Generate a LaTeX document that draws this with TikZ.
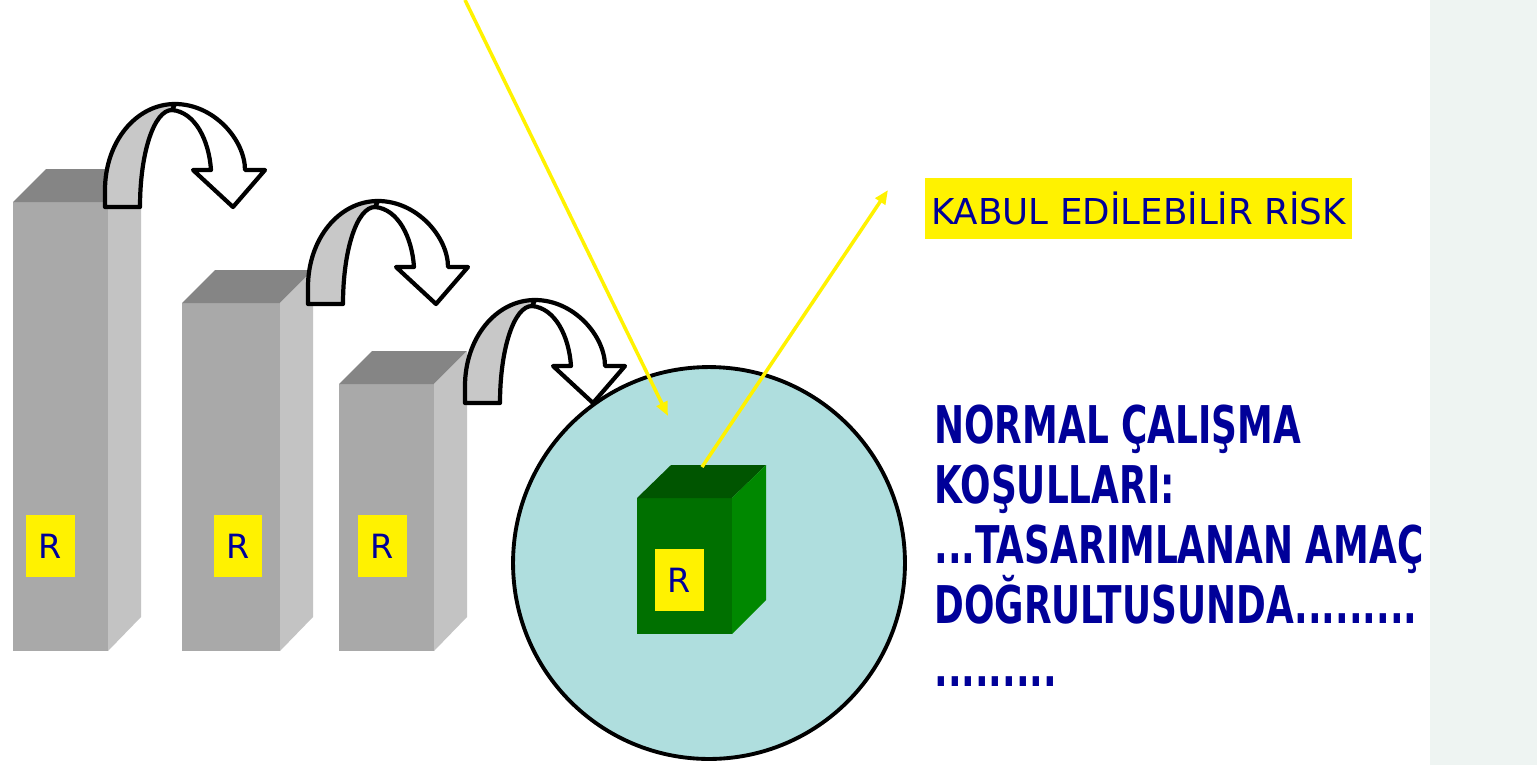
\documentclass[tikz,border=0pt]{standalone}
\usepackage{fontspec}
\newfontfamily\tahoma[FakeStretch=0.69]{DejaVu Sans}
\newfontfamily\plainsans{DejaVu Sans}
\usetikzlibrary{arrows.meta}

\definecolor{frontgray}{RGB}{169,169,169}
\definecolor{sidegray}{RGB}{195,195,195}
\definecolor{topgray}{RGB}{133,133,133}
\definecolor{curlgray}{RGB}{200,200,200}
\definecolor{frontgreen}{RGB}{0,112,0}
\definecolor{sidegreen}{RGB}{0,136,0}
\definecolor{topgreen}{RGB}{0,85,0}
\definecolor{poolcyan}{RGB}{175,222,222}
\definecolor{ink}{RGB}{0,0,153}
\definecolor{stripgray}{RGB}{238,244,242}

\begin{document}
\begin{tikzpicture}[x=0.02cm, y=-0.02cm]

\tikzstyle{barfront} = [fill=frontgray]
\tikzstyle{barside} = [fill=sidegray]
\tikzstyle{bartop} = [fill=topgray]
\tikzstyle{boxfront} = [fill=frontgreen]
\tikzstyle{boxside} = [fill=sidegreen]
\tikzstyle{boxtop} = [fill=topgreen]
\tikzstyle{risk} = [rectangle, fill=yellow, text=ink, minimum width=0.98cm, minimum height=1.24cm, inner sep=0pt, font=\plainsans\fontsize{19pt}{19pt}\selectfont]
\tikzstyle{pool} = [circle, draw=black, line width=2.2pt, fill=poolcyan, minimum size=7.84cm, inner sep=0pt]
\tikzstyle{curl} = [draw=black, line width=2.4pt, line join=round, fill=curlgray]
\tikzstyle{curlback} = [draw=black, line width=2.4pt, line join=round, fill=white]
\tikzstyle{ray} = [draw=yellow, line width=2pt, -{Triangle[length=8pt,width=6.5pt]}]
\tikzstyle{tag} = [rectangle, fill=yellow, text=ink, minimum width=8.54cm, minimum height=1.22cm, inner sep=0pt, font=\plainsans\fontsize{20.3pt}{20.3pt}\selectfont]
\tikzstyle{note} = [anchor=north west, align=left, inner sep=0pt, text=ink, font=\tahoma\bfseries\fontsize{29.6pt}{34.1pt}\selectfont]

\useasboundingbox (0,0) rectangle (1537,765);
\fill[stripgray] (1430,0) rectangle (1537,765);

\fill[barfront] (13,202) rectangle (108,651);
\fill[bartop] (13,202) -- (46,169) -- (141,169) -- (108,202) -- cycle;
\fill[barside] (108,202) -- (141,169) -- (141,617) -- (108,651) -- cycle;

\fill[barfront] (182,303) rectangle (280,651);
\fill[bartop] (182,303) -- (215,270) -- (313,270) -- (280,303) -- cycle;
\fill[barside] (280,303) -- (313,270) -- (313,617) -- (280,651) -- cycle;

\fill[barfront] (339,384) rectangle (434,651);
\fill[bartop] (339,384) -- (372,351) -- (467,351) -- (434,384) -- cycle;
\fill[barside] (434,384) -- (467,351) -- (467,617) -- (434,651) -- cycle;

\node[risk] (r1) at (50.5,546) {R};
\node[risk] (r2) at (238,546) {R};
\node[risk] (r3) at (382.5,546) {R};

\node[pool] (zone) at (709,563) {};

\fill[boxfront] (637,498) rectangle (732,634);
\fill[boxtop] (637,498) -- (671,465) -- (766,465) -- (732,498) -- cycle;
\fill[boxside] (732,498) -- (766,465) -- (766,600) -- (732,634) -- cycle;
\node[risk] (r4) at (679.5,580) {R};

\draw[curlback] (175,104) .. controls (214,104) and (245,140) .. (245,170) -- (265,170) -- (233,207) -- (193,170) -- (211,170) .. controls (209,140) and (195,112) .. (172,110) -- cycle;
\draw[curl] (105,207) -- (105,190) .. controls (105,142) and (136,104) .. (175,104) -- (172,110) .. controls (154,110) and (140,153) .. (140,207) -- cycle;

\draw[curlback, shift={(203,97)}] (175,104) .. controls (214,104) and (245,140) .. (245,170) -- (265,170) -- (233,207) -- (193,170) -- (211,170) .. controls (209,140) and (195,112) .. (172,110) -- cycle;
\draw[curl, shift={(203,97)}] (105,207) -- (105,190) .. controls (105,142) and (136,104) .. (175,104) -- (172,110) .. controls (154,110) and (140,153) .. (140,207) -- cycle;

\draw[curlback, shift={(360,196)}] (175,104) .. controls (214,104) and (245,140) .. (245,170) -- (265,170) -- (233,207) -- (193,170) -- (211,170) .. controls (209,140) and (195,112) .. (172,110) -- cycle;
\draw[curl, shift={(360,196)}] (105,207) -- (105,190) .. controls (105,142) and (136,104) .. (175,104) -- (172,110) .. controls (154,110) and (140,153) .. (140,207) -- cycle;

\coordinate (sky) at (465,0);
\coordinate (hit) at (668,416);
\coordinate (lid) at (702,467);
\coordinate (out) at (888,190);
\draw[ray] (sky) -- (hit);
\draw[ray] (lid) -- (out);

\node[tag] (kabul) at (1138.5,208.5) {KABUL EDİLEBİLİR RİSK};
\node[note] (normal) at (934,405) {NORMAL ÇALIŞMA\\KOŞULLARI:\\...TASARIMLANAN AMAÇ\\DOĞRULTUSUNDA.........\\[1.7pt].........};

\end{tikzpicture}
\end{document}
